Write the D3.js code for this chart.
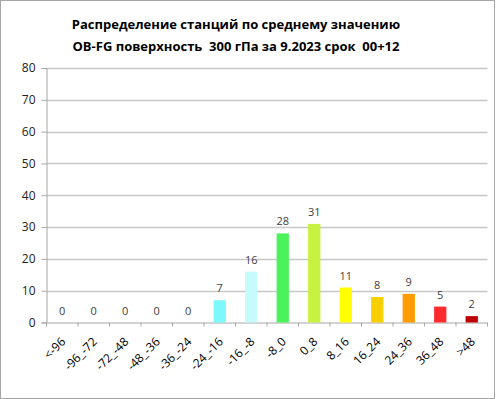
<!DOCTYPE html>
<html>
<head>
<meta charset="utf-8">
<script src="https://cdnjs.cloudflare.com/ajax/libs/d3/7.8.5/d3.min.js"></script>
<style>
  body { margin: 0; background: #fff; }
  svg text { font-family: "Open Sans", "Noto Sans", sans-serif; }
</style>
</head>
<body>
<div id="chart"></div>
<script>
// data
var categories = ["<-96", "-96_-72", "-72_-48", "-48_-36", "-36_-24", "-24_-16", "-16_-8",
                  "-8_0", "0_8", "8_16", "16_24", "24_36", "36_48", ">48"];
var counts = [0, 0, 0, 0, 0, 7, 16, 28, 31, 11, 8, 9, 5, 2];
var barColors = ["#80ffff", "#80ffff", "#80ffff", "#80ffff", "#80ffff", "#7ff8fc", "#c6fafc",
                 "#4cf25a", "#c8f240", "#ffff00", "#f8d000", "#ff9c00", "#ff2a2e", "#c00000"];
var yTicks = [0, 10, 20, 30, 40, 50, 60, 70, 80];
var titleLines = ["Распределение станций по среднему значению",
                  "OB-FG поверхность  300 гПа за 9.2023 срок  00+12"];

var W = 496, H = 399;
var plotLeft = 46.5, plotRight = 487.5, plotTop = 68, plotBottom = 322.5;

var svg = d3.select("#chart").append("svg")
    .attr("width", W)
    .attr("height", H);

// outer frame
svg.append("rect")
    .attr("x", 0.5).attr("y", 0.5)
    .attr("width", W - 2).attr("height", H - 1)
    .attr("fill", "#fff")
    .attr("stroke", "#a6a6a6");

// title
svg.selectAll(".title").data(titleLines).join("text")
    .attr("class", "title")
    .attr("x", 236)
    .attr("y", function(d, i) { return 29 + i * 22; })
    .attr("text-anchor", "middle")
    .attr("font-size", 13)
    .attr("font-weight", "bold")
    .attr("fill", "#000")
    .style("white-space", "pre")
    .text(function(d) { return d; });

var x = d3.scaleBand().domain(categories).range([plotLeft, plotRight]);
var y = d3.scaleLinear().domain([0, 80]).range([plotBottom, plotTop]);

// grid lines
svg.append("g").selectAll("line").data(yTicks.slice(1)).join("line")
    .attr("x1", plotLeft).attr("x2", plotRight)
    .attr("y1", function(d) { return Math.round(y(d)) + 0.5; })
    .attr("y2", function(d) { return Math.round(y(d)) + 0.5; })
    .attr("stroke", "#c8c8c8")
    .attr("stroke-width", 1.5);

// y axis
var yAxis = svg.append("g")
    .attr("transform", "translate(" + plotLeft + ",0)")
    .call(d3.axisLeft(y).tickValues(yTicks).tickSize(5).tickPadding(6));
yAxis.select(".domain").attr("stroke", "#a6a6a6");
yAxis.selectAll(".tick line").attr("stroke", "#a6a6a6");
yAxis.selectAll(".tick text")
    .attr("font-size", 12)
    .attr("fill", "#222")
    .style("font-family", "'Open Sans', sans-serif");

// x axis
var xAxis = svg.append("g")
    .attr("transform", "translate(0," + plotBottom + ")")
    .call(d3.axisBottom(x).tickSize(0).tickFormat(""));
xAxis.select(".domain").attr("stroke", "#a6a6a6");
xAxis.selectAll(".tick").remove();

// tick marks at band edges
var edges = categories.map(function(c) { return x(c); }).concat([plotRight]);
svg.append("g").selectAll("line").data(edges).join("line")
    .attr("x1", function(d) { return d; })
    .attr("x2", function(d) { return d; })
    .attr("y1", plotBottom).attr("y2", plotBottom + 4)
    .attr("stroke", "#a6a6a6");

// x labels
svg.append("g").selectAll("text").data(categories).join("text")
    .attr("transform", function(d) {
        return "translate(" + (x(d) + x.bandwidth() / 2 + 4) + "," + (plotBottom + 20) + ") rotate(-45)";
    })
    .attr("text-anchor", "end")
    .attr("font-size", 12)
    .attr("fill", "#000")
    .text(function(d) { return d; });

// bars
var bw = x.bandwidth() * 0.39;
svg.append("g").selectAll("rect").data(counts).join("rect")
    .attr("x", function(d, i) { return x(categories[i]) + (x.bandwidth() - bw) / 2; })
    .attr("y", function(d) { return y(d); })
    .attr("width", bw)
    .attr("height", function(d) { return plotBottom - y(d); })
    .attr("fill", function(d, i) { return barColors[i]; });

// value labels
svg.append("g").selectAll("text").data(counts).join("text")
    .attr("x", function(d, i) { return x(categories[i]) + x.bandwidth() / 2; })
    .attr("y", function(d) { return y(d) - 8; })
    .attr("text-anchor", "middle")
    .attr("font-size", 11)
    .attr("fill", "#404040")
    .text(function(d) { return d; });
</script>
</body>
</html>
